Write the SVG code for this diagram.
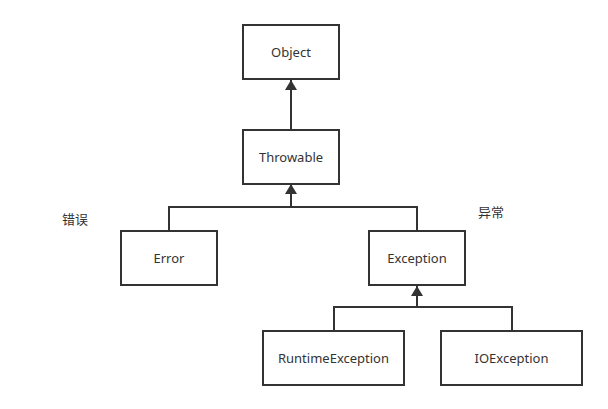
<svg xmlns="http://www.w3.org/2000/svg" width="608" height="409" viewBox="0 0 608 409">
<style>
.box{fill:#fff;stroke:#333;stroke-width:2}
.t{font-family:"Noto Sans","Noto Sans CJK SC",sans-serif;font-size:13px;fill:#333;text-anchor:middle;dominant-baseline:central}
.c{fill:none;stroke:#333;stroke-width:2}
</style>
<defs>
<marker id="ah" viewBox="0 0 10 12" refX="10" refY="6" markerWidth="10" markerHeight="12" markerUnits="userSpaceOnUse" orient="auto">
<path d="M0,0 L10,6 L0,12 Z" fill="#333"/>
</marker>
</defs>
<rect width="608" height="409" fill="#fff"/>
<g id="connectors">
<path class="c" d="M291,130 V80" marker-end="url(#ah)"/>
<path class="c" d="M169,231 V207 H417 V231 M291,207 V184" marker-end="url(#ah)"/>
<path class="c" d="M334,331 V307 H512 V331 M417,307 V286" marker-end="url(#ah)"/>
</g>
<g id="object"><rect class="box" x="243" y="25" width="96" height="54"/><text class="t" x="291" y="52">Object</text></g>
<g id="throwable"><rect class="box" x="243" y="130" width="96" height="54"/><text class="t" x="291" y="157">Throwable</text></g>
<g id="error"><rect class="box" x="121" y="231" width="96" height="54"/><text class="t" x="169" y="258">Error</text></g>
<g id="exception"><rect class="box" x="369" y="231" width="96" height="54"/><text class="t" x="417" y="258">Exception</text></g>
<g id="runtime"><rect class="box" x="263" y="331" width="141" height="54"/><text class="t" x="333.5" y="358">RuntimeException</text></g>
<g id="ioexception"><rect class="box" x="441" y="331" width="141" height="54"/><text class="t" x="511.5" y="358">IOException</text></g>
<g id="labels">
<text class="t" x="75" y="219">错误</text>
<text class="t" x="491" y="212">异常</text>
</g>
</svg>
